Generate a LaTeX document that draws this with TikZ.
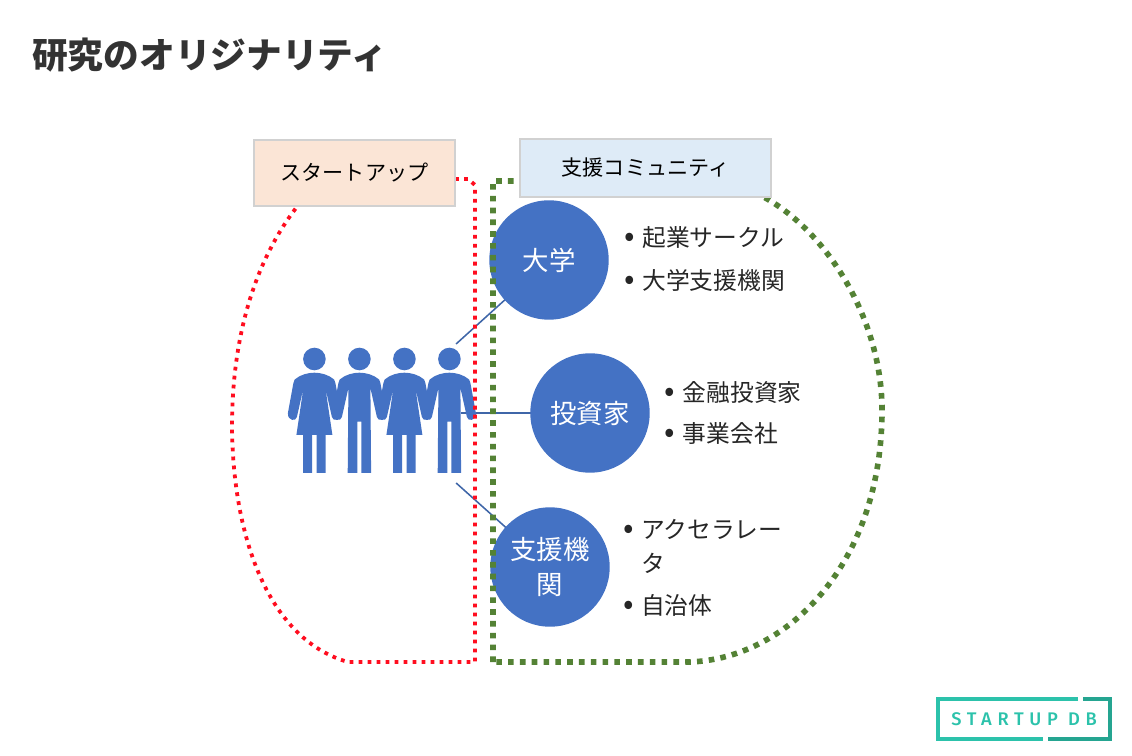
\documentclass[tikz,border=0pt]{standalone}
\usepackage{fontspec}
\usepackage{tikz-network}
\setmainfont{Noto Sans CJK JP}
\newfontfamily\logofont[LetterSpace=31]{Fira Sans Medium}
\definecolor{personblue}{HTML}{4472C4}
\definecolor{edgeblue}{HTML}{3F66A8}
\definecolor{startupred}{HTML}{FF0D1F}
\definecolor{supportgreen}{HTML}{548235}
\definecolor{logoteal}{HTML}{2CC2AB}
\definecolor{titlegray}{HTML}{333333}
\definecolor{startupfill}{HTML}{FBE5D6}
\definecolor{supportfill}{HTML}{DEEBF7}
\tikzset{
    headerbox/.style={draw=black!18, line width=1.4pt, font=\fontsize{15}{18}\selectfont},
    itemtext/.style={anchor=west, inner sep=0pt, text=black!85, font=\fontsize{16.9}{20}\selectfont},
    person/.style={x=0.025cm, y=-0.025cm, fill=personblue},
}
\newcommand{\itembullet}[1]{\makebox[#1][l]{\fontsize{22}{20}\selectfont•}}
\newcommand{\drawhead}{\fill[person] (0,0) circle (11.3);}
\newcommand{\drawman}[1]{
    \begin{scope}[shift={(#1,9.9)}]
    \drawhead
    \fill[person] (-19.7,20.5) .. controls (-14,15.5) and (-6,13.7) .. (0,13.7) .. controls (6,13.7) and (14,15.5) .. (19.7,20.5)
        -- (21,24) -- (26.5,54) .. controls (27,62.5) and (18,62.5) .. (17.5,58) -- (11,29) -- (11.7,114) -- (2,114) -- (2,62.7)
        -- (-2,62.7) -- (-2,114) -- (-11.7,114) -- (-11,29) -- (-17.5,58)
        .. controls (-18,62.5) and (-27,62.5) .. (-26.5,54) -- (-21,24) -- cycle;
    \end{scope}
}
\newcommand{\drawwoman}[1]{
    \begin{scope}[shift={(#1,9.9)}]
    \drawhead
    \fill[person] (-19.7,20.5) .. controls (-14,15.5) and (-6,13.7) .. (0,13.7) .. controls (6,13.7) and (14,15.5) .. (19.7,20.5)
        -- (21,24) -- (26.5,54) .. controls (27,62.5) and (18,62.5) .. (17.5,58) -- (11,29) -- (18,76) -- (11.3,76) -- (11.3,114) -- (2.3,114) -- (2.3,76)
        -- (-2.3,76) -- (-2.3,114) -- (-11.3,114) -- (-11.3,76) -- (-18,76) -- (-11,29) -- (-17.5,58)
        .. controls (-18,62.5) and (-27,62.5) .. (-26.5,54) -- (-21,24) -- cycle;
    \end{scope}
}

\begin{document}
\begin{tikzpicture}
    \useasboundingbox (0,0) rectangle (28.3,18.875);
    \SetVertexStyle[FillColor=personblue, LineColor=personblue, TextColor=white, TextFont=\fontsize{18.8}{26}\selectfont]

    \Vertex[x=13.725, y=12.375, size=2.95, color=personblue, fontcolor=white, label=大学]{daigaku}
    \Vertex[x=14.75, y=8.55, size=2.95, color=personblue, fontcolor=white, label=投資家]{toshika}
    \Vertex[x=13.75, y=4.7, size=2.95, color=personblue, fontcolor=white, label={\shortstack{支援機\\[5pt]関}}]{shien}

    \Vertex[Pseudo, x=11.18, y=10.075]{p1}
    \Vertex[Pseudo, x=11.225, y=8.55]{p2}
    \Vertex[Pseudo, x=11.18, y=7.0]{p3}

    \drawwoman{7.86}
    \drawman{8.985}
    \drawwoman{10.11}
    \drawman{11.235}

    \Edge[lw=1.1pt, color=edgeblue](p1)(daigaku)
    \Edge[lw=1.1pt, color=edgeblue](p2)(toshika)
    \Edge[lw=1.1pt, color=edgeblue](p3)(shien)

    \draw[startupred, line width=2.7pt, dash pattern=on 2.7pt off 3.7pt]
        (11.375,14.4) -- (11.7,14.4) -- (11.875,14.25) -- (11.875,2.325) -- (8.7,2.325)
        .. controls (6.75,2.875) and (5.825,5.375) .. (5.8,8.2)
        .. controls (5.8,10.625) and (6.45,12.5) .. (7.5,13.8);
    \draw[supportgreen, line width=4pt, dash pattern=on 4pt off 4.4pt]
        (12.325,2.325) -- (12.325,14.35) -- (17.875,14.35)
        .. controls (20,14.125) and (22.05,11.375) .. (22.05,8.625)
        .. controls (22.05,4.625) and (19.5,2.25) .. (17,2.325) -- cycle;

    \node[headerbox, fill=startupfill, minimum width=5.025cm, minimum height=1.65cm] (startup) at (8.8625,14.55) {スタートアップ};
    \node[headerbox, fill=supportfill, minimum width=6.275cm, minimum height=1.45cm] (support) at (16.1375,14.675) {支援コミュニティ};

    \node[itemtext] (item1) at (15.6,12.925) {\itembullet{12.9pt}起業サークル};
    \node[itemtext] (item2) at (15.6,11.875) {\itembullet{12.9pt}大学支援機関};
    \node[itemtext] (item3) at (16.6,9.075) {\itembullet{13.2pt}金融投資家};
    \node[itemtext] (item4) at (16.6,8.05) {\itembullet{13.2pt}事業会社};
    \node[itemtext] (item5) at (15.575,5.65) {\itembullet{12.6pt}アクセラレー};
    \node[itemtext] (item6) at (16.025,4.8) {タ};
    \node[itemtext] (item7) at (15.575,3.75) {\itembullet{12.6pt}自治体};

    \node[anchor=west, inner sep=0pt, text=titlegray, font=\fontsize{25.4}{30}\selectfont\bfseries] (title) at (0.8,17.5) {研究のオリジナリティ};

    \draw[logoteal, line width=2.3pt] (26.95,1.4) -- (23.45,1.4) -- (23.45,0.4) -- (26.075,0.4);
    \draw[logoteal!85!black, line width=2.3pt] (27.075,1.4) -- (27.75,1.4) -- (27.75,0.4) -- (26.2,0.4);
    \node[text=logoteal, font=\fontsize{13}{15}\selectfont\logofont] (logo) at (25.6,0.9) {STARTUP DB};
\end{tikzpicture}
\end{document}
